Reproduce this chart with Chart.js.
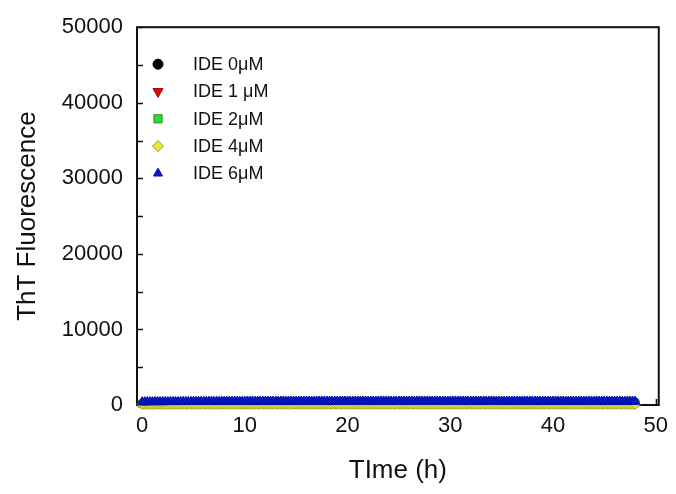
<!DOCTYPE html>
<html>
<head>
<meta charset="utf-8">
<script src="https://cdn.jsdelivr.net/npm/chart.js@4.4.0/dist/chart.umd.min.js"></script>
<style>
  html, body { margin: 0; padding: 0; background: #ffffff; }
  #wrap { width: 676px; height: 494px; }
</style>
</head>
<body>
<div id="wrap"><canvas id="c" width="676" height="494"></canvas></div>
<script>
// Sampling times (h), half-hour reads
const timeH = [
  0, 0.5, 1, 1.5, 2, 2.5, 3, 3.5, 4, 4.5, 5, 5.5, 6, 6.5, 7, 7.5, 8, 8.5, 9, 9.5,
  10, 10.5, 11, 11.5, 12, 12.5, 13, 13.5, 14, 14.5, 15, 15.5, 16, 16.5, 17, 17.5, 18, 18.5, 19, 19.5,
  20, 20.5, 21, 21.5, 22, 22.5, 23, 23.5, 24, 24.5, 25, 25.5, 26, 26.5, 27, 27.5, 28, 28.5, 29, 29.5,
  30, 30.5, 31, 31.5, 32, 32.5, 33, 33.5, 34, 34.5, 35, 35.5, 36, 36.5, 37, 37.5, 38, 38.5, 39, 39.5,
  40, 40.5, 41, 41.5, 42, 42.5, 43, 43.5, 44, 44.5, 45, 45.5, 46, 46.5, 47, 47.5, 48
];

// Sampling times (h), quarter-hour reads
const timeFineH = [
  0, 0.25, 0.5, 0.75, 1, 1.25, 1.5, 1.75, 2, 2.25, 2.5, 2.75, 3, 3.25, 3.5, 3.75, 4, 4.25, 4.5, 4.75,
  5, 5.25, 5.5, 5.75, 6, 6.25, 6.5, 6.75, 7, 7.25, 7.5, 7.75, 8, 8.25, 8.5, 8.75, 9, 9.25, 9.5, 9.75,
  10, 10.25, 10.5, 10.75, 11, 11.25, 11.5, 11.75, 12, 12.25, 12.5, 12.75, 13, 13.25, 13.5, 13.75, 14, 14.25, 14.5, 14.75,
  15, 15.25, 15.5, 15.75, 16, 16.25, 16.5, 16.75, 17, 17.25, 17.5, 17.75, 18, 18.25, 18.5, 18.75, 19, 19.25, 19.5, 19.75,
  20, 20.25, 20.5, 20.75, 21, 21.25, 21.5, 21.75, 22, 22.25, 22.5, 22.75, 23, 23.25, 23.5, 23.75, 24, 24.25, 24.5, 24.75,
  25, 25.25, 25.5, 25.75, 26, 26.25, 26.5, 26.75, 27, 27.25, 27.5, 27.75, 28, 28.25, 28.5, 28.75, 29, 29.25, 29.5, 29.75,
  30, 30.25, 30.5, 30.75, 31, 31.25, 31.5, 31.75, 32, 32.25, 32.5, 32.75, 33, 33.25, 33.5, 33.75, 34, 34.25, 34.5, 34.75,
  35, 35.25, 35.5, 35.75, 36, 36.25, 36.5, 36.75, 37, 37.25, 37.5, 37.75, 38, 38.25, 38.5, 38.75, 39, 39.25, 39.5, 39.75,
  40, 40.25, 40.5, 40.75, 41, 41.25, 41.5, 41.75, 42, 42.25, 42.5, 42.75, 43, 43.25, 43.5, 43.75, 44, 44.25, 44.5, 44.75,
  45, 45.25, 45.5, 45.75, 46, 46.25, 46.5, 46.75, 47, 47.25, 47.5, 47.75, 48
];

// ThT fluorescence readings for each IDE concentration
const ide0uM = [
  210,218,225,231,228,236,242,238,245,250, 247,255,259,253,261,266,262,268,272,267,
  274,278,273,280,284,279,286,290,284,291, 295,289,296,300,294,301,305,299,306,309,
  303,310,313,307,314,317,311,318,321,315, 322,325,319,326,329,323,330,333,327,334,
  337,331,338,341,335,342,345,339,346,349, 343,350,353,347,354,357,351,358,361,355,
  362,365,359,366,369,363,370,373,367,374, 377,371,378,381,375,382,385
];
const ide1uM = [
  190,196,203,199,207,212,208,215,219,214, 221,225,220,227,231,226,233,236,231,238,
  241,236,243,246,241,248,251,246,253,256, 250,257,260,255,262,265,259,266,269,263,
  270,273,267,274,277,271,278,281,275,282, 285,279,286,289,283,290,293,287,294,297,
  291,298,301,295,302,305,299,306,309,303, 310,313,307,314,317,311,318,321,315,322,
  325,319,326,329,323,330,333,327,334,337, 331,338,341,335,342,345,339
];
const ide2uM = [
  170,176,181,178,186,190,185,193,197,192, 199,203,198,205,209,204,211,214,209,216,
  219,214,221,224,219,226,229,224,231,234, 228,235,238,233,240,243,237,244,247,241,
  248,251,245,252,255,249,256,259,253,260, 263,257,264,267,261,268,271,265,272,275,
  269,276,279,273,280,283,277,284,287,281, 288,291,285,292,295,289,296,299,293,300,
  303,297,304,307,301,308,311,305,312,315, 309,316,319,313,320,323,317
];
const ide4uM = [
  90,93,95,91,88,96,102,99,97,101,105,102,99,106,110,107,104,99,96,103,
  108,104,101,107,112,109,106,101,98,104,110,113,115,111,107,104,101,108,113,110,
  118,113,109,106,104,111,116,119,121,116,112,108,106,113,119,116,114,110,108,114,
  120,123,125,121,117,114,111,118,123,120,118,115,112,119,126,123,120,117,115,119,
  122,125,128,123,119,116,113,120,125,123,121,119,116,122,127,125,123,120,117,121,
  124,127,129,124,120,117,114,121,126,124,122,119,116,123,128,124,121,118,115,119,
  123,120,118,115,112,119,125,122,119,116,113,118,121,119,116,113,110,116,122,119,
  117,114,111,116,119,116,114,111,108,114,120,117,115,112,109,114,117,114,112,109,
  106,112,118,115,113,110,107,112,115,112,110,107,104,110,116,113,111,108,105,109,
  113,110,108,105,102,106,110,108,106,103,100,104,108
];
const ide6uM = [
  380,388,395,399,402,406,410,407,405,412,418,421,422,418,415,423,430,428,426,431,
  435,438,440,436,432,439,445,448,450,446,441,448,455,451,448,454,460,456,452,455,
  458,462,465,461,457,460,462,466,470,467,463,466,468,470,472,469,466,471,475,472,
  470,474,478,475,473,470,468,472,476,479,481,477,474,472,470,475,479,481,483,479,
  476,474,472,476,480,483,485,481,477,475,473,477,481,484,486,482,478,476,474,478,
  482,480,479,477,475,479,483,485,487,483,480,478,476,480,484,481,479,476,474,478,
  482,484,486,482,478,475,473,477,480,478,476,473,471,475,478,480,482,478,475,472,
  470,473,477,475,473,470,468,472,475,477,479,475,472,469,467,470,474,472,470,467,
  465,469,472,474,476,472,469,466,464,468,471,469,467,464,462,466,469,471,473,470,
  466,463,461,465,468,466,464,461,459,462,466,464,462
];

const seriesLabels = ['IDE 0\u03bcM', 'IDE 1 \u03bcM', 'IDE 2\u03bcM', 'IDE 4\u03bcM', 'IDE 6\u03bcM'];
const xTicks = [0, 10, 20, 30, 40, 50];
const yTicks = [0, 10000, 20000, 30000, 40000, 50000];
const yMinorTicks = [5000, 15000, 25000, 35000, 45000];
const xMinorTicks = [5, 15, 25, 35, 45];

const FONT = '"Liberation Sans", Arial, Helvetica, sans-serif';
const INK = '#111111';

const toPoints = (ts, ys) => ts.map((t, i) => ({ x: t, y: ys[i] }));

// Marker styles per series
const styles = [
  { t: timeH,     data: ide0uM, pointStyle: 'circle',   rotation: 0,   bg: '#000000', border: '#000000', r: 4,   lr: 5,   order: 4 },
  { t: timeH,     data: ide1uM, pointStyle: 'triangle', rotation: 180, bg: '#d40f0f', border: '#a00000', r: 4.5, lr: 5.8, order: 3 },
  { t: timeH,     data: ide2uM, pointStyle: 'rect',     rotation: 0,   bg: '#3ad33a', border: '#189a18', r: 5,   lr: 5.8, order: 2 },
  { t: timeFineH, data: ide4uM, pointStyle: 'rectRot',  rotation: 0,   bg: '#e8e83a', border: '#9a9a2a', r: 5.2, lr: 5.5, order: 1 },
  { t: timeFineH, data: ide6uM, pointStyle: 'triangle', rotation: 0,   bg: '#0a14d2', border: '#00109a', r: 5.4, lr: 5.2, order: 0 }
];

const datasets = styles.map((s, i) => ({
  label: seriesLabels[i],
  data: toPoints(s.t, s.data),
  showLine: false,
  pointStyle: s.pointStyle,
  rotation: s.rotation,
  pointRadius: s.r,
  pointHoverRadius: s.r,
  pointBorderWidth: 1,
  backgroundColor: s.bg,
  borderColor: s.border,
  legendRadius: s.lr,
  order: s.order,
  clip: false
}));

// Plot frame with inward tick marks on the left and bottom axes
const framePlugin = {
  id: 'frame',
  beforeDatasetsDraw(chart) {
    const { ctx, chartArea: a, scales: { x, y } } = chart;
    ctx.save();
    ctx.strokeStyle = INK;
    ctx.lineWidth = 2;
    ctx.strokeRect(a.left, a.top, a.right - a.left, a.bottom - a.top);
    ctx.lineWidth = 1.6;
    ctx.beginPath();
    yTicks.concat(yMinorTicks).forEach(v => {
      const py = Math.round(y.getPixelForValue(v)) + 0.5;
      ctx.moveTo(a.left, py);
      ctx.lineTo(a.left + 6, py);
    });
    xTicks.concat(xMinorTicks).forEach(v => {
      const px = Math.round(x.getPixelForValue(v)) + 0.5;
      ctx.moveTo(px, a.bottom);
      ctx.lineTo(px, a.bottom - 6);
    });
    ctx.stroke();
    ctx.restore();
  }
};

// Legend stacked in the upper-left corner of the plot
const legendPlugin = {
  id: 'cornerLegend',
  afterDatasetsDraw(chart) {
    const { ctx, chartArea: a } = chart;
    const mx = a.left + 21, tx = a.left + 56, y0 = a.top + 37, step = 27.3;
    ctx.save();
    chart.data.datasets.forEach((ds, i) => {
      const yy = y0 + i * step;
      ctx.fillStyle = ds.backgroundColor;
      ctx.strokeStyle = ds.borderColor;
      ctx.lineWidth = 1;
      Chart.helpers.drawPoint(ctx, {
        pointStyle: ds.pointStyle,
        rotation: ds.rotation,
        radius: ds.legendRadius,
        borderWidth: 1
      }, mx, yy);
      ctx.fillStyle = INK;
      ctx.font = '18px ' + FONT;
      ctx.textBaseline = 'middle';
      ctx.textAlign = 'left';
      ctx.fillText(ds.label, tx, yy + 1);
    });
    ctx.restore();
  }
};

new Chart(document.getElementById('c'), {
  type: 'scatter',
  data: { datasets },
  options: {
    responsive: false,
    animation: false,
    events: [],
    layout: { padding: { top: 27, right: 16, left: 0, bottom: 0 } },
    plugins: { legend: { display: false }, tooltip: { enabled: false } },
    scales: {
      x: {
        type: 'linear',
        min: -0.5,
        max: 50.3,
        afterBuildTicks: s => { s.ticks = xTicks.map(v => ({ value: v })); },
        afterFit: s => { s.height = 89; },
        grid: { display: false, drawTicks: false },
        border: { display: false },
        ticks: { color: INK, font: { family: FONT, size: 22 }, padding: 8, maxRotation: 0, autoSkip: false },
        title: { display: true, text: 'TIme (h)', color: INK, font: { family: FONT, size: 26 }, padding: { bottom: 8 } }
      },
      y: {
        type: 'linear',
        min: 0,
        max: 50000,
        afterBuildTicks: s => { s.ticks = yTicks.map(v => ({ value: v })); },
        afterFit: s => { s.width = 137; },
        grid: { display: false, drawTicks: false },
        border: { display: false },
        ticks: { color: INK, font: { family: FONT, size: 22 }, padding: 14, autoSkip: false, callback: v => String(v) },
        title: { display: true, text: 'ThT Fluorescence', color: INK, font: { family: FONT, size: 26 }, padding: { top: 12 } }
      }
    }
  },
  plugins: [framePlugin, legendPlugin]
});
</script>
</body>
</html>
